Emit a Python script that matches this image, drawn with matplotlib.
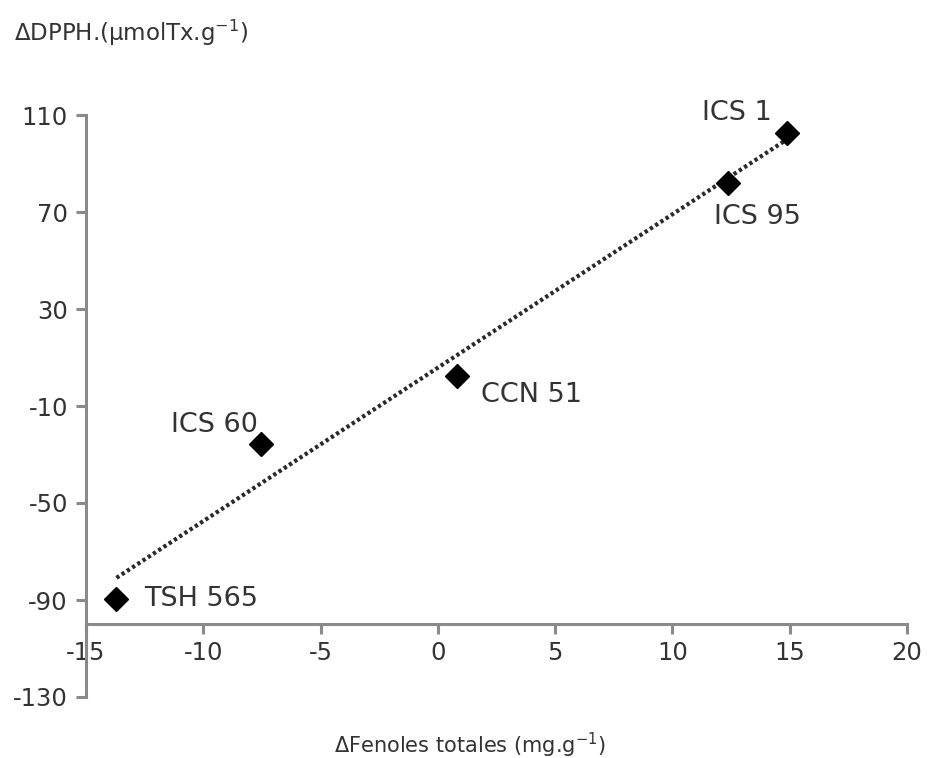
import numpy as np
import matplotlib.pyplot as plt

# datos
nombres = ['ICS 1', 'ICS 95', 'CCN 51', 'ICS 60', 'TSH 565']
fenoles = [14.9, 12.35, 0.8, -7.55, -13.7]
dpph = [102.5, 82.0, 2.5, -25.5, -89.5]

# posicion de las etiquetas (pixeles respecto al punto)
offs = [(-85, 20), (-14, -34), (24, -19), (-90, 19), (28, 0)]

plt.rcParams['font.family'] = 'DejaVu Sans'
plt.rcParams['axes.unicode_minus'] = False

fig = plt.figure(figsize=(9.31, 7.58), dpi=100)
ax = fig.add_axes([86/931, 1 - 697/758, (907 - 86)/931, (697 - 115)/758])

x = np.array(fenoles)
y = np.array(dpph)

# linea de tendencia lineal
m, b = np.polyfit(x, y, 1)
xt = np.array([x.min(), x.max()])
ax.plot(xt, m*xt + b, color='#2a2a2a', lw=3, ls=(0, (0.8, 0.7)), zorder=2)

ax.plot(x, y, ls='none', marker='D', ms=12.5, color='black', zorder=3)

for n, xi, yi, o in zip(nombres, fenoles, dpph, offs):
    ax.annotate(n, (xi, yi), xytext=o, textcoords='offset pixels',
                ha='left', va='center', fontsize=19.5, color='#333333')

ax.set_xlim(-15, 20)
ax.set_ylim(-130, 110)
ax.set_xticks([-15, -10, -5, 0, 5, 10, 15, 20])
ax.set_yticks([-130, -90, -50, -10, 30, 70, 110])

ax.spines['top'].set_visible(False)
ax.spines['right'].set_visible(False)
ax.spines['bottom'].set_position(('data', -100))
for s in ['left', 'bottom']:
    ax.spines[s].set_color('#8a8a8a')
    ax.spines[s].set_linewidth(2.2)
ax.tick_params(axis='both', colors='#8a8a8a', width=2.2, length=7, direction='out',
               labelcolor='#333333', labelsize=17.5)
ax.tick_params(axis='y', pad=6)
ax.tick_params(axis='x', pad=5)

fig.text(14/931, 1 - 33/758, r'ΔDPPH.(μmolTx.g$^{-1}$)', fontsize=16.5,
         color='#333333', ha='left', va='center')
fig.text(470/931, 1 - 745/758, r'ΔFenoles totales (mg.g$^{-1}$)', fontsize=15,
         color='#333333', ha='center', va='center')

fig.savefig('out.png', dpi=100)
